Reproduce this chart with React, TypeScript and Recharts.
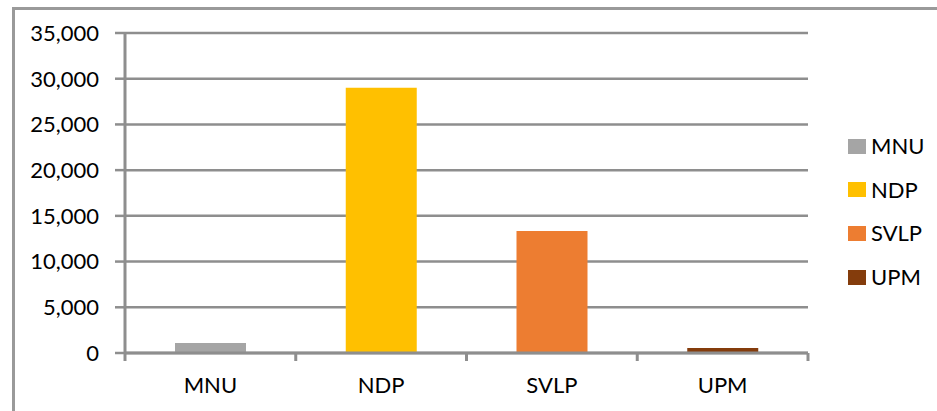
import React from "react";
import { BarChart, Bar, XAxis, YAxis, CartesianGrid, Cell } from "recharts";

const categories = ["MNU", "NDP", "SVLP", "UPM"];
const values = [1100, 29000, 13350, 550];
const colors = ["#a5a5a5", "#ffc000", "#ed7d31", "#843c0c"];
const yTicks = [0, 5000, 10000, 15000, 20000, 25000, 30000, 35000];

const data = categories.map((name, i) => ({ name, value: values[i] }));

const FONT = "Lato, 'Open Sans', sans-serif";
const GRID = "#8e8e8e";

function CategoryTick(props: any) {
  const { x, y, payload, index, visibleTicksCount } = props;
  const half = payload && typeof payload.offset === "number" ? payload.offset : 0;
  const axisY = y - 24;
  const last = index === (visibleTicksCount ?? data.length) - 1;
  return (
    <g>
      <line x1={x - half} x2={x - half} y1={axisY} y2={axisY + 8} stroke={GRID} strokeWidth={3} />
      {last && (
        <line x1={x + half} x2={x + half} y1={axisY} y2={axisY + 8} stroke={GRID} strokeWidth={3} />
      )}
      <text x={x} y={y} dy="0.71em" textAnchor="middle" fill="#000" fontSize={22} fontFamily={FONT}>
        {payload.value}
      </text>
    </g>
  );
}

export default function App() {
  return (
    <div
      style={{
        position: "fixed",
        left: 0,
        top: 0,
        width: 937,
        height: 411,
        overflow: "hidden",
        background: "#fff",
        fontFamily: FONT,
      }}
    >
      <div
        style={{
          position: "absolute",
          left: 12,
          top: 7,
          width: 1000,
          height: 500,
          borderLeft: "3px solid #9a9a9a",
          borderTop: "3px solid #9a9a9a",
        }}
      />
      <div style={{ position: "absolute", left: 0, top: 0 }}>
        <BarChart
          width={937}
          height={411}
          data={data}
          margin={{ top: 33, right: 129, bottom: 0, left: 0 }}
        >
          <CartesianGrid vertical={false} stroke={GRID} strokeWidth={2.5} />
          <XAxis
            dataKey="name"
            height={58}
            tickLine={false}
            tickSize={0}
            tickMargin={24}
            axisLine={{ stroke: GRID, strokeWidth: 3 }}
            tick={<CategoryTick />}
          />
          <YAxis
            width={125}
            domain={[0, 35000]}
            ticks={yTicks}
            interval={0}
            tickSize={10}
            tickMargin={16}
            axisLine={{ stroke: GRID, strokeWidth: 3 }}
            tickLine={{ stroke: GRID, strokeWidth: 2.5 }}
            tick={{ fill: "#000", fontSize: 22, fontFamily: FONT }}
            tickFormatter={(v: number) => v.toLocaleString("en-US")}
          />
          <Bar dataKey="value" barSize={71} isAnimationActive={false}>
            {data.map((d, i) => (
              <Cell key={d.name} fill={colors[i]} />
            ))}
          </Bar>
        </BarChart>
      </div>
      {categories.map((name, i) => (
        <div
          key={name}
          style={{
            position: "absolute",
            left: 848,
            top: 146 + i * 43.7 - 15,
            height: 30,
            display: "flex",
            alignItems: "center",
            fontSize: 22,
            color: "#000",
            fontFamily: FONT,
          }}
        >
          <span
            style={{
              display: "inline-block",
              width: 18,
              height: 15,
              background: colors[i],
              marginRight: 5,
            }}
          />
          <span style={{ lineHeight: "30px" }}>{name}</span>
        </div>
      ))}
    </div>
  );
}
